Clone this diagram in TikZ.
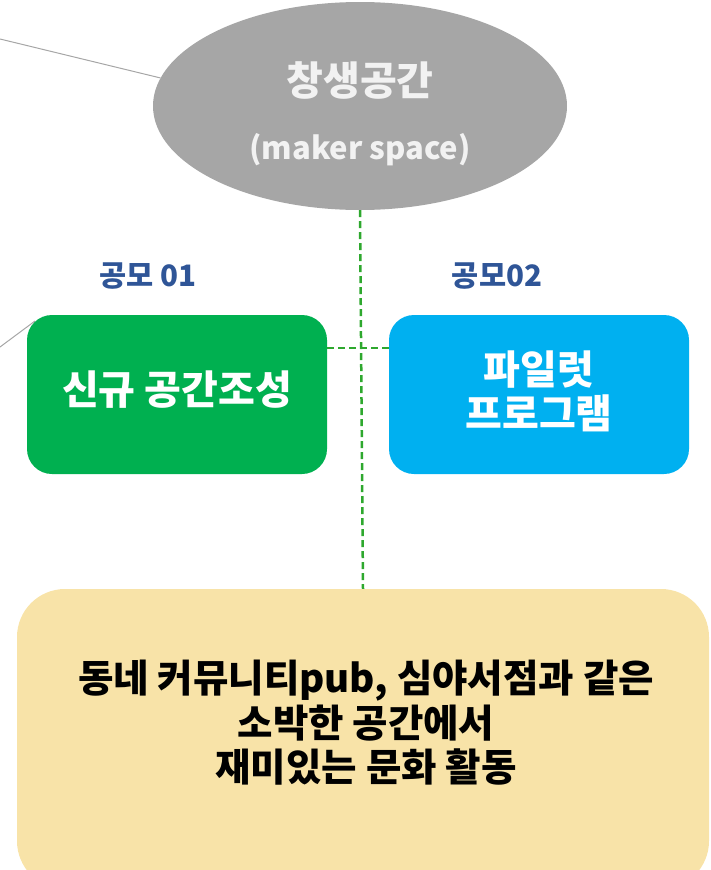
\documentclass[tikz,border=0pt]{standalone}
\usepackage{fontspec}
\setmainfont{Noto Sans CJK KR}
\usetikzlibrary{shapes.geometric}
\definecolor{ellgray}{HTML}{A6A6A6}
\definecolor{elltext}{HTML}{F2F2F2}
\definecolor{linegray}{HTML}{A6A6A6}
\definecolor{boxgreen}{HTML}{00B050}
\definecolor{boxblue}{HTML}{00B0F0}
\definecolor{boxyellow}{HTML}{F8E3A8}
\definecolor{labelblue}{HTML}{2F5597}
\definecolor{dashgreen}{HTML}{2EA82E}
\tikzset{
  ellshape/.style={ellipse, fill=ellgray, minimum width=414pt, minimum height=208pt, inner sep=0pt},
  elltxt/.style={text=elltext, font=\bfseries\fontsize{#1}{#1}\selectfont, inner sep=0pt},
  colbox/.style={rectangle, rounded corners=25pt, fill=#1, minimum width=300pt, minimum height=159pt, inner sep=0pt},
  boxtxt/.style={text=white, align=center, font=\bfseries\fontsize{40}{44}\selectfont, inner sep=0pt},
  toplabel/.style={text=labelblue, font=\bfseries\fontsize{29.5}{29.5}\selectfont, inner sep=0pt},
  greydash/.style={draw=dashgreen, line width=2.5pt, dash pattern=on 7pt off 4pt},
  thinline/.style={draw=linegray, line width=1pt},
  yellowbox/.style={rectangle, rounded corners=48pt, fill=boxyellow, minimum width=692pt, minimum height=300pt, inner sep=0pt},
  yellowtxt/.style={text=black, align=center, font=\bfseries\fontsize{38.5}{44.5}\selectfont, inner sep=0pt}
}
\begin{document}
\begin{tikzpicture}[x=1pt,y=-1pt]
\useasboundingbox (0,0) rectangle (711,870);
% ellipse
\node[ellshape] (ell) at (360,106) {};
\node[elltxt=40] (elltitle) at (360,80) {창생공간};
\node[elltxt=31] (ellsub) at (360,150) {(maker space)};
% boxes
\node[colbox=boxgreen] (green) at (177,394.5) {};
\node[boxtxt] (greentxt) at (177,390) {신규 공간조성};
\node[colbox=boxblue] (blue) at (539,394.5) {};
\node[boxtxt] (bluetxt) at (539,391) {파일럿\\프로그램};
\node[toplabel] (lab1) at (148,276) {공모 01};
\node[toplabel] (lab2) at (497,276) {공모02};
% yellow box
\node[yellowbox] (yel) at (363,739) {};
\node[yellowtxt] (yeltxt) at (366,723) {동네 커뮤니티pub, 심야서점과 같은\\소박한 공간에서\\재미있는 문화 활동};
% connectors
\coordinate (offa) at (0,39);
\coordinate (offb) at (0,347);
\coordinate (cornerg) at (35,321);
\draw[thinline] (offa) -- (ell.172.7);
\draw[thinline] (offb) -- (cornerg);
\draw[greydash] (ell.south) -- (yel.north);
\draw[greydash] (green.east |- 0,348) -- (blue.west |- 0,348);
\end{tikzpicture}
\end{document}
